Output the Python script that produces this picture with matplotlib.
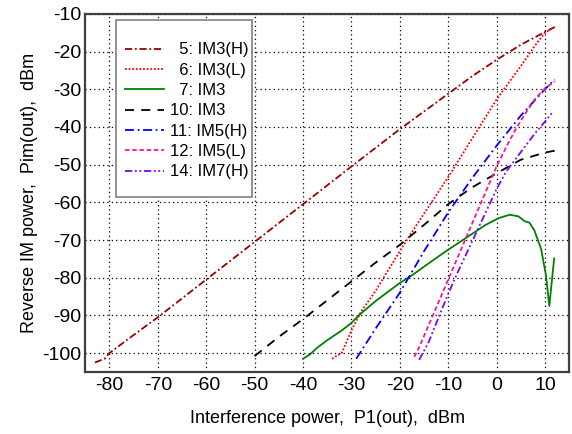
"""Reverse IM power vs interference power (IM3/IM5/IM7 curves)."""

import matplotlib
matplotlib.use("Agg")
import matplotlib.pyplot as plt
from matplotlib.patches import Rectangle

plt.rcParams["font.family"] = "sans-serif"
plt.rcParams["font.sans-serif"] = ["Liberation Sans", "DejaVu Sans"]
plt.rcParams["axes.unicode_minus"] = False

# 5: IM3(H)
im3h_x = [-83, -81, -80, -75, -70, -60, -50, -40, -30, -20, -10, -5, 0, 5, 10, 12]
im3h_y = [-102.5, -101.5, -100, -95.2, -90.5, -80.5, -70.5, -60.5, -50.5,
          -40.6, -31.2, -26.5, -22.2, -18.2, -14.8, -13.5]
# 6: IM3(L)
im3l_x = [-34, -33, -32, -31, -30, -28, -25, -23, -20, -17.7, -15, -10, -5,
          0, 5, 8, 10, 12]
im3l_y = [-101.5, -100.7, -100, -97, -94, -89, -83.5, -79.3, -73, -68.3,
          -63, -53.3, -43, -32.7, -23.9, -18.3, -15, -13.5]
# 7: IM3
im3_x = [-40, -38.6, -37, -34.9, -32.1, -30, -28.4, -25, -20.1, -17.4, -14.7,
         -10.6, -6.5, -2.4, 0.4, 2.7, 4.5, 5.8, 6.8, 7.8, 9.2, 10.2, 10.9, 11.9]
im3_y = [-101.5, -100.4, -98.5, -96.5, -94.1, -92, -89.9, -86.2, -81.5,
         -79.3, -76.8, -73.1, -69.6, -66.1, -64.2, -63.3, -63.7, -65, -65.4,
         -67.4, -72.3, -79.3, -87.5, -74.9]
# 10: IM3
im3b_x = [-50, -45, -40, -35, -30, -25, -20, -15, -10, -5, 0, 5, 10, 12]
im3b_y = [-100.8, -95.7, -91, -86, -81, -76, -71.3, -66, -60.5, -56, -52.3,
          -48.7, -46.8, -46.3]
# 11: IM5(H)
im5h_x = [-29, -25, -20, -15, -10, -5, 0, 5, 10, 12]
im5h_y = [-101.5, -93.5, -84, -73, -62.7, -53.5, -45, -37, -30, -27.4]
# 12: IM5(L)
im5l_x = [-17, -16, -14, -12, -10, -8, -6, -4, -2, 0, 2, 4, 6, 8, 10, 12]
im5l_y = [-101, -98.5, -92.5, -86.5, -80.5, -74.5, -68.5, -62.5, -56.5,
          -50.5, -45.3, -40.5, -36.3, -32.5, -29.8, -27.9]
# 14: IM7(H)
im7h_x = [-16, -14, -12.6, -10, -8, -6, -4, -2, 0, 2, 4, 6, 8, 10, 11.5]
im7h_y = [-101.8, -97, -92.5, -84.3, -78.5, -73, -67.5, -62, -56.5, -51.8,
          -48.4, -45, -41.6, -38.6, -36.2]

x_ticks = [-80, -70, -60, -50, -40, -30, -20, -10, 0, 10]
y_ticks = [-100, -90, -80, -70, -60, -50, -40, -30, -20, -10]

fig = plt.figure(figsize=(5.72, 4.34), dpi=100)
ax = fig.add_axes([0.149, 0.143, 0.846, 0.825])

lw = 1.3
ax.plot(im3h_x, im3h_y, color="#990000", lw=lw, dashes=(4, 1.5, 1, 1.5),
        label="  5: IM3(H)")
ax.plot(im3l_x, im3l_y, color="#ff0000", lw=lw, dashes=(1, 1),
        label="  6: IM3(L)")
ax.plot(im3_x, im3_y, color="#008000", lw=lw, label="  7: IM3")
ax.plot(im3b_x, im3b_y, color="black", lw=lw, dashes=(5, 4),
        label="10: IM3")
ax.plot(im5h_x, im5h_y, color="#0000ff", lw=lw, dashes=(5, 2, 1, 2),
        label="11: IM5(H)")
ax.plot(im5l_x, im5l_y, color="#ff1493", lw=lw, dashes=(2.5, 1.5),
        label="12: IM5(L)")
ax.plot(im7h_x, im7h_y, color="#8000ff", lw=lw, dashes=(4, 1.5, 1, 1.5, 1, 1.5),
        label="14: IM7(H)")

ax.set_xlim(-85, 15)
ax.set_ylim(-105, -10)
ax.set_xticks(x_ticks)
ax.set_yticks(y_ticks)
ax.tick_params(labelsize=14, length=0, pad=4)
ax.tick_params(axis="y", pad=3)
ax.grid(True, color="black", linestyle=(0, (1, 2.5)), linewidth=0.9)
for sp in ax.spines.values():
    sp.set_color("#404040")
    sp.set_linewidth(1.6)

ax.set_xlabel("Interference power,  P1(out),  dBm", fontsize=13, labelpad=11)
ax.set_ylabel("Reverse IM power,  Pim(out),  dBm", fontsize=13, labelpad=3)

# legend box drawn separately: the reference has a lot more room top/bottom
ax.add_patch(Rectangle((0.064, 0.489), 0.28, 0.494, transform=ax.transAxes,
                       facecolor="white", edgecolor="#808080", lw=1.2,
                       zorder=4))
leg = ax.legend(loc="upper left", bbox_to_anchor=(0.052, 0.962),
                fontsize=12, handlelength=2.3, labelspacing=0.32,
                borderpad=0.4, handletextpad=0.4, frameon=False)
leg.set_zorder(5)

fig.savefig("out.png", dpi=100)
